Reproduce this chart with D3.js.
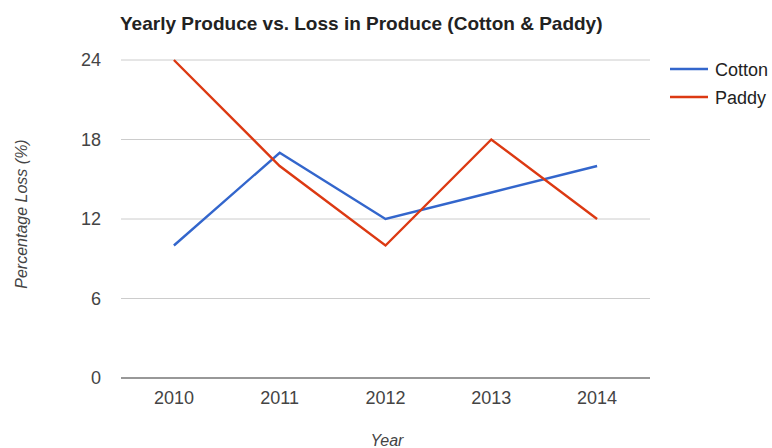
<!DOCTYPE html>
<html>
<head>
<meta charset="utf-8">
<script src="https://cdn.jsdelivr.net/npm/d3@7"></script>
<style>
  body { margin: 0; background: #fff; }
  svg { display: block; font-family: "Liberation Sans", Arial, sans-serif; }
</style>
</head>
<body>
<svg id="chart" width="772" height="448"></svg>
<script>
const years = ["2010", "2011", "2012", "2013", "2014"];
const cotton = [10, 17, 12, 14, 16];
const paddy = [24, 16, 10, 18, 12];
const yTicks = [0, 6, 12, 18, 24];
const seriesNames = ["Cotton", "Paddy"];
const seriesColors = ["#3366cc", "#dc3912"];

const svg = d3.select("#chart");
const plot = { left: 121, right: 650, top: 60, bottom: 378 };

const x = d3.scaleBand().domain(years).range([plot.left, plot.right]);
const y = d3.scaleLinear().domain([0, 24]).range([plot.bottom, plot.top]);

// title
svg.append("text")
  .attr("x", 120).attr("y", 30)
  .attr("font-size", 19).attr("font-weight", "bold").attr("fill", "#222")
  .text("Yearly Produce vs. Loss in Produce (Cotton & Paddy)");

// gridlines
svg.append("g").selectAll("line").data(yTicks.filter(d => d !== 0)).join("line")
  .attr("x1", plot.left).attr("x2", plot.right)
  .attr("y1", d => y(d)).attr("y2", d => y(d))
  .attr("stroke", "#cccccc").attr("stroke-width", 1);

// y axis labels
const yAxis = svg.append("g")
  .attr("transform", `translate(${plot.left - 20},0)`)
  .call(d3.axisLeft(y).tickValues(yTicks).tickSize(0).tickPadding(0));
yAxis.select(".domain").remove();
yAxis.selectAll("text").attr("font-size", 18).attr("fill", "#444")
  .attr("font-family", "Liberation Sans, Arial, sans-serif");

// x axis labels
const xAxis = svg.append("g")
  .attr("transform", `translate(0,${plot.bottom + 13})`)
  .call(d3.axisBottom(x).tickSize(0).tickPadding(0));
xAxis.select(".domain").remove();
xAxis.selectAll("text").attr("font-size", 18).attr("fill", "#444")
  .attr("font-family", "Liberation Sans, Arial, sans-serif");

// baseline
svg.append("line")
  .attr("x1", plot.left).attr("x2", plot.right)
  .attr("y1", y(0)).attr("y2", y(0))
  .attr("stroke", "#333").attr("stroke-width", 1.2);

// axis titles
svg.append("text")
  .attr("transform", `translate(27,214) rotate(-90)`)
  .attr("text-anchor", "middle").attr("font-size", 16).attr("font-style", "italic")
  .attr("fill", "#444").text("Percentage Loss (%)");
svg.append("text")
  .attr("x", 387).attr("y", 446)
  .attr("text-anchor", "middle").attr("font-size", 16).attr("font-style", "italic")
  .attr("fill", "#444").text("Year");

// lines
const line = d3.line()
  .x((d, i) => x(years[i]) + x.bandwidth() / 2)
  .y(d => y(d));
[cotton, paddy].forEach((s, k) => {
  svg.append("path").datum(s)
    .attr("d", line)
    .attr("fill", "none")
    .attr("stroke", seriesColors[k])
    .attr("stroke-width", 2.4)
    .attr("stroke-linejoin", "miter");
});

// legend
const legend = svg.append("g");
seriesNames.forEach((n, i) => {
  const ly = 69 + i * 28;
  legend.append("line")
    .attr("x1", 670).attr("x2", 708).attr("y1", ly).attr("y2", ly)
    .attr("stroke", seriesColors[i]).attr("stroke-width", 2.4);
  legend.append("text")
    .attr("x", 715).attr("y", ly + 6.5)
    .attr("font-size", 18).attr("fill", "#222").text(n);
});
</script>
</body>
</html>
